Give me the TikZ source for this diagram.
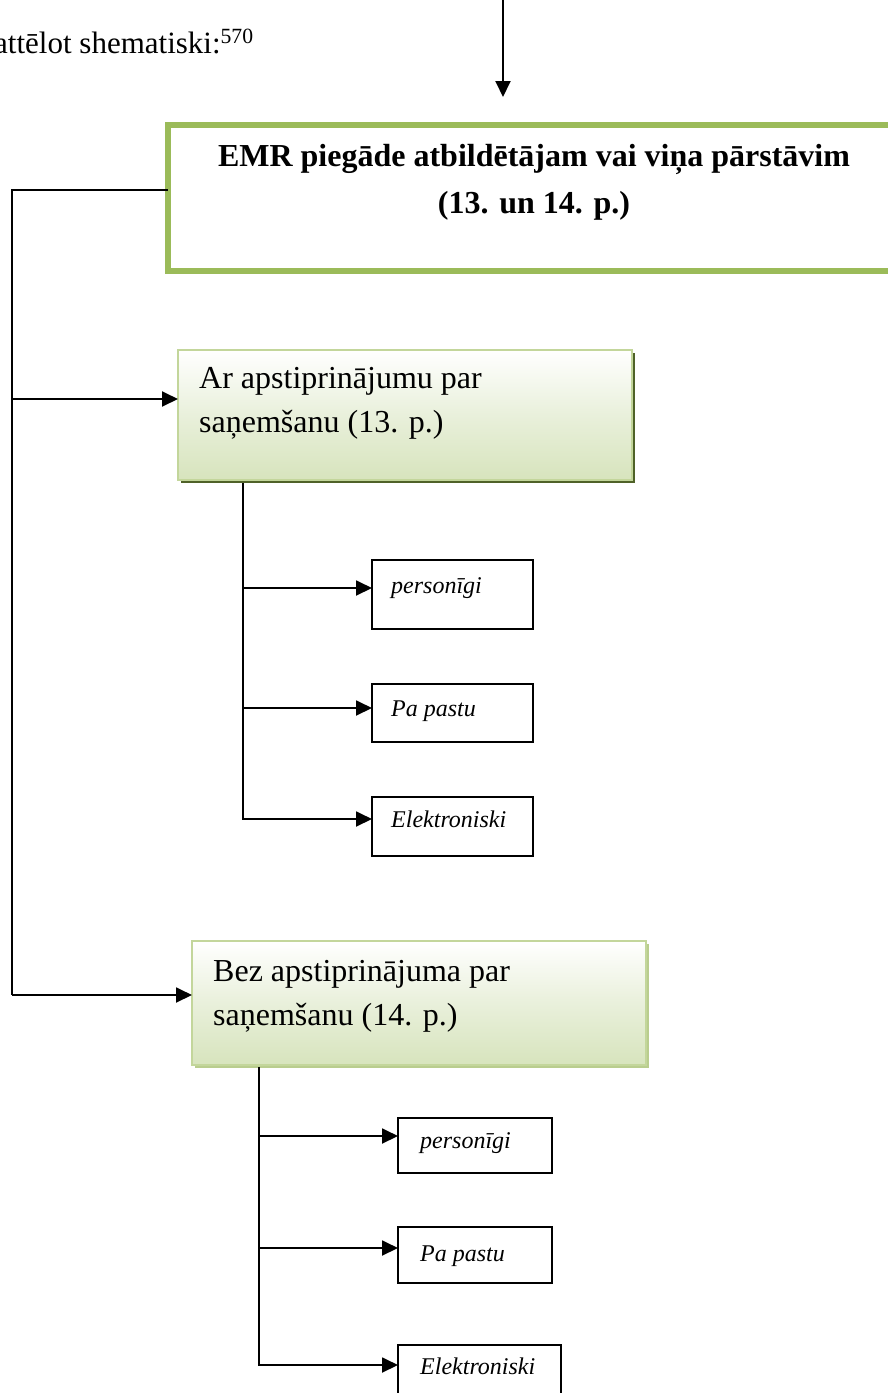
\documentclass[tikz,border=0pt]{standalone}
\usepackage{fontspec}
\setmainfont{Liberation Serif}
\usetikzlibrary{arrows.meta,calc}
\definecolor{titlegreen}{HTML}{9BBB59}
\definecolor{boxborder}{HTML}{C3D69B}
\definecolor{boxbottom}{HTML}{D7E4BD}
\definecolor{boxmid}{HTML}{E9F0DB}
\definecolor{darkshadow}{HTML}{4F6228}
\definecolor{lightshadow}{HTML}{B9CD8E}
\tikzset{
  x=1pt, y=-1pt,
  conn/.style={line width=1.9pt, draw=black},
  arr/.style={conn, -{Triangle[length=16pt,width=15pt]}},
  titlebox/.style={draw=titlegreen, line width=5.5pt, rectangle, inner sep=0pt, outer sep=0pt, anchor=north west},
  gbox/.style={draw=boxborder, line width=2pt, rectangle, inner sep=0pt, outer sep=0pt, anchor=north west,
    top color=white, bottom color=boxbottom, middle color=boxmid},
  smallbox/.style={draw=black, line width=1.5pt, fill=white, rectangle, inner sep=0pt, outer sep=0pt, anchor=north west},
  bigtext/.style={font=\fontsize{32}{44}\selectfont, anchor=base west, inner sep=0pt, align=left},
  smalltext/.style={font=\itshape\fontsize{24}{28}\selectfont, anchor=base west, inner sep=0pt},
  titletext/.style={font=\bfseries\fontsize{32}{47}\selectfont, anchor=base, inner sep=0pt, align=center},
}
\begin{document}
\begin{tikzpicture}
\useasboundingbox (0,0) rectangle (887,1393);
\fill[white] (0,0) rectangle (887,1393);

% running text
\node[font=\fontsize{31}{40}\selectfont, anchor=base west, inner sep=0pt] (intro) at (-6,53) {attēlot shematiski:\textsuperscript{570}};

% top arrow
\coordinate (topstart) at (503,-2);
\coordinate (toptip) at (503,97);
\draw[arr] (topstart) -- (toptip);

% title box
\node[titlebox, minimum width=760, minimum height=146] (emr) at (168,125) {};
\node[titletext] (emrtext) at (534,213) {EMR piegāde atbildētājam vai viņa pārstāvim\\(13. un 14. p.)};

% box "Ar"
\fill[darkshadow] (181,353) rectangle (635,483);
\node[gbox, minimum width=454, minimum height=130] (ar) at (178,350) {};
\node[bigtext] (artext) at (199,432) {Ar apstiprinājumu par\\saņemšanu (13. p.)};

% box "Bez"
\fill[lightshadow] (195,944) rectangle (649,1068);
\node[gbox, minimum width=454, minimum height=124] (bez) at (192,941) {};
\node[bigtext] (beztext) at (213,1025) {Bez apstiprinājuma par\\saņemšanu (14. p.)};

% main trunk
\coordinate (trunktop) at (12,190);
\coordinate (trunkbot) at (12,995);
\draw[conn] (emr.west |- trunktop) -- (trunktop) -- (trunkbot);
\draw[arr] (trunktop |- 0,399) -- (ar.west |- 0,399);
\draw[arr] (trunkbot) -- (bez.west |- trunkbot);

% sub-boxes of "Ar"
\node[smallbox, minimum width=161, minimum height=69] (p1) at (372,560) {};
\node[smallbox, minimum width=161, minimum height=58] (p2) at (372,684) {};
\node[smallbox, minimum width=161, minimum height=59] (p3) at (372,797) {};
\node[smalltext] (p1t) at (391,593) {personīgi};
\node[smalltext] (p2t) at (391,716) {Pa pastu};
\node[smalltext] (p3t) at (391,827) {Elektroniski};
\coordinate (atop) at (243,483);
\coordinate (a1) at (243,588);
\coordinate (a2) at (243,708);
\coordinate (a3) at (243,819);
\draw[conn] (atop) -- (a3);
\draw[arr] (a1) -- (p1.west |- a1);
\draw[arr] (a2) -- (p2.west |- a2);
\draw[arr] ([xshift=-0.95pt]a3) -- (p3.west |- a3);

% sub-boxes of "Bez"
\node[smallbox, minimum width=154, minimum height=55] (q1) at (398,1118) {};
\node[smallbox, minimum width=154, minimum height=56] (q2) at (398,1227) {};
\node[smallbox, minimum width=163, minimum height=60] (q3) at (398,1345) {};
\node[smalltext] (q1t) at (420,1148) {personīgi};
\node[smalltext] (q2t) at (420,1261) {Pa pastu};
\node[smalltext] (q3t) at (420,1374) {Elektroniski};
\coordinate (btop) at (259,1067);
\coordinate (b1) at (259,1136);
\coordinate (b2) at (259,1248);
\coordinate (b3) at (259,1365);
\draw[conn] (btop) -- (b3);
\draw[arr] (b1) -- (q1.west |- b1);
\draw[arr] (b2) -- (q2.west |- b2);
\draw[arr] ([xshift=-0.95pt]b3) -- (q3.west |- b3);
\end{tikzpicture}
\end{document}
